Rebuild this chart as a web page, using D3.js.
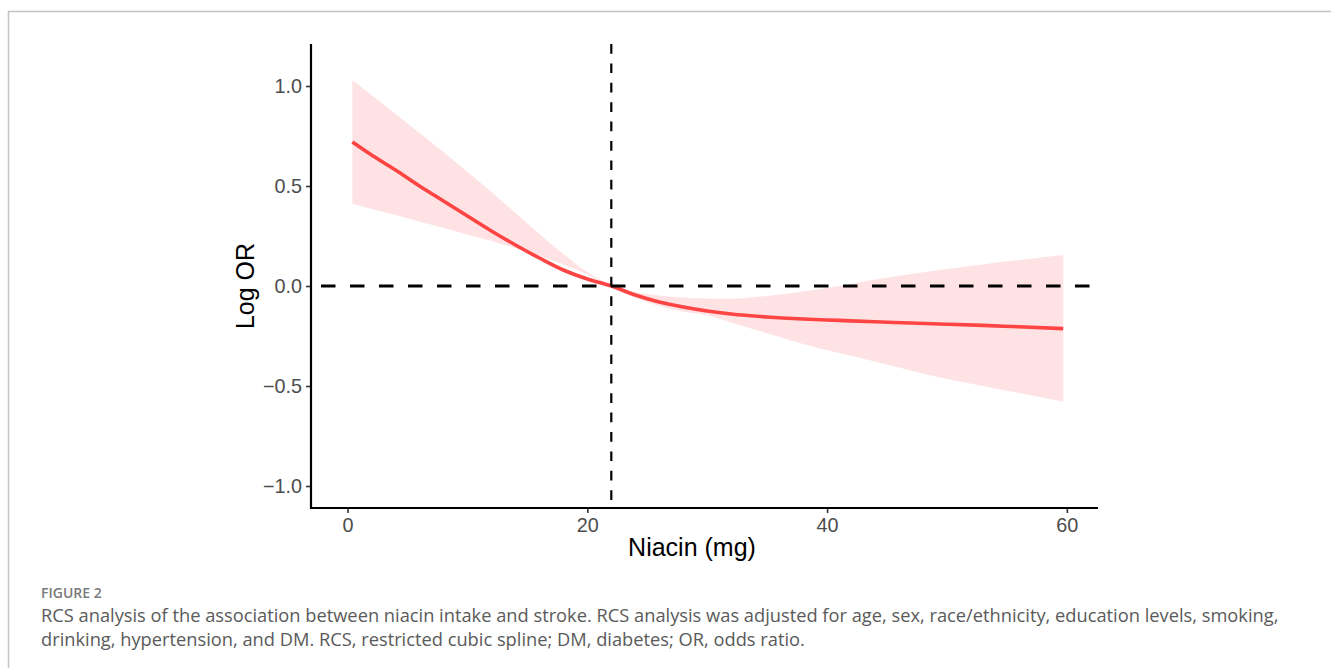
<!DOCTYPE html>
<html>
<head>
<meta charset="utf-8">
<script src="https://cdn.jsdelivr.net/npm/d3@7"></script>
<style>
  body { margin: 0; background: #fff; }
  svg { display: block; }
</style>
</head>
<body>
<div id="chart"></div>
<script>
// niacin intake (mg) and RCS estimate with 95% CI
const niacin = [0.4, 2, 4, 6, 8, 10, 12, 14, 16, 18, 20, 22, 24, 26, 28, 30, 32, 35, 38, 41, 44, 47, 50, 53, 56, 59.7];
const logOR  = [0.72, 0.655, 0.58, 0.50, 0.425, 0.35, 0.275, 0.205, 0.14, 0.08, 0.035, 0.0, -0.045, -0.08, -0.105, -0.125, -0.14, -0.155, -0.165, -0.172, -0.179, -0.185, -0.191, -0.197, -0.204, -0.213];
const upper  = [1.03, 0.955, 0.86, 0.765, 0.67, 0.57, 0.47, 0.365, 0.26, 0.16, 0.07, 0.005, -0.03, -0.048, -0.058, -0.063, -0.064, -0.05, -0.028, 0.0, 0.032, 0.06, 0.085, 0.108, 0.13, 0.155];
const lower  = [0.413, 0.385, 0.355, 0.322, 0.29, 0.258, 0.225, 0.19, 0.15, 0.108, 0.058, -0.005, -0.06, -0.1, -0.127, -0.146, -0.182, -0.236, -0.29, -0.335, -0.378, -0.422, -0.465, -0.50, -0.535, -0.578];

const xTicks = [0, 20, 40, 60];
const yTicks = [-1.0, -0.5, 0.0, 0.5, 1.0];
const refX = 22;   // vertical reference line
const refY = 0;    // horizontal reference line

const captionHead = "FIGURE 2";
const captionLines = [
  "RCS analysis of the association between niacin intake and stroke. RCS analysis was adjusted for age, sex, race/ethnicity, education levels, smoking,",
  "drinking, hypertension, and DM. RCS, restricted cubic spline; DM, diabetes; OR, odds ratio."
];

const width = 1331, height = 668;
const panel = {left: 311, right: 1098, top: 44, bottom: 508};

const svg = d3.select("#chart").append("svg")
  .attr("width", width)
  .attr("height", height);

// frame of the figure box
svg.append("path")
  .attr("d", `M8.5,${height} V11.5 H${width}`)
  .attr("fill", "none")
  .attr("stroke", "#c4c4c4")
  .attr("stroke-width", 1.5);

const x = d3.scaleLinear().domain([-3.05, 62.6]).range([panel.left, panel.right]);
const y = d3.scaleLinear().domain([-1.11, 1.21]).range([panel.bottom, panel.top]);

const data = niacin.map((d, i) => ({x: d, y: logOR[i], lo: lower[i], hi: upper[i]}));

// confidence band
svg.append("path")
  .datum(data)
  .attr("d", d3.area()
    .curve(d3.curveMonotoneX)
    .x(d => x(d.x))
    .y0(d => y(d.lo))
    .y1(d => y(d.hi)))
  .attr("fill", "#ffe2e3");

// fitted curve
svg.append("path")
  .datum(data)
  .attr("d", d3.line()
    .curve(d3.curveMonotoneX)
    .x(d => x(d.x))
    .y(d => y(d.y)))
  .attr("fill", "none")
  .attr("stroke", "#ff4444")
  .attr("stroke-width", 3.6);

// reference lines
svg.append("line")
  .attr("x1", panel.left).attr("x2", panel.right - 6)
  .attr("y1", y(refY)).attr("y2", y(refY))
  .attr("stroke", "#000")
  .attr("stroke-width", 3)
  .attr("stroke-dasharray", "14.5,14.5")
  .attr("stroke-dashoffset", -10);

svg.append("line")
  .attr("x1", x(refX)).attr("x2", x(refX))
  .attr("y1", panel.top).attr("y2", panel.bottom)
  .attr("stroke", "#000")
  .attr("stroke-width", 2.2)
  .attr("stroke-dasharray", "9.7,9.7");

// axes
const fmt = d3.format(".1f");
const yAxis = svg.append("g")
  .attr("transform", `translate(${panel.left},0)`)
  .call(d3.axisLeft(y).tickValues(yTicks).tickFormat(fmt).tickSize(5).tickPadding(4));

const xAxis = svg.append("g")
  .attr("transform", `translate(0,${panel.bottom})`)
  .call(d3.axisBottom(x).tickValues(xTicks).tickFormat(d3.format("d")).tickSize(5).tickPadding(5));

[xAxis, yAxis].forEach(g => {
  g.select(".domain").remove();
  g.selectAll(".tick line").attr("stroke", "#333").attr("stroke-width", 1.6);
  g.selectAll(".tick text")
    .attr("fill", "#4d4d4d")
    .style("font-family", "'Liberation Sans', Arial, sans-serif")
    .style("font-size", "19.8px");
});

// axis lines drawn separately so they meet at the corner
svg.append("path")
  .attr("d", `M${panel.left},${panel.top} V${panel.bottom} H${panel.right}`)
  .attr("fill", "none")
  .attr("stroke", "#000")
  .attr("stroke-width", 2.2);

// axis titles
svg.append("text")
  .attr("x", 692)
  .attr("y", 556)
  .attr("text-anchor", "middle")
  .style("font-family", "'Liberation Sans', Arial, sans-serif")
  .style("font-size", "25px")
  .attr("fill", "#000")
  .text("Niacin (mg)");

svg.append("text")
  .attr("transform", `translate(254,${y(0)}) rotate(-90)`)
  .attr("text-anchor", "middle")
  .style("font-family", "'Liberation Sans', Arial, sans-serif")
  .style("font-size", "25px")
  .attr("fill", "#000")
  .text("Log OR");

// caption
svg.append("text")
  .attr("x", 41)
  .attr("y", 598)
  .style("font-family", "'Open Sans', 'Noto Sans', sans-serif")
  .style("font-size", "14px")
  .style("font-weight", 600)
  .attr("fill", "#7a7a7a")
  .text(captionHead);

const capLines = svg.selectAll(".cap")
  .data(captionLines)
  .enter()
  .append("text")
  .attr("class", "cap")
  .attr("x", 41)
  .attr("y", (d, i) => 622 + i * 24)
  .style("font-family", "'Open Sans', 'Noto Sans', sans-serif")
  .style("font-size", "16px")
  .attr("fill", "#5a5a5a")
  .text(d => d);

// scale caption font so the first line fills the same width as the reference
const firstLen = capLines.node().getComputedTextLength();
const fs = 16 * 1238 / firstLen;
capLines.style("font-size", fs.toFixed(2) + "px");
</script>
</body>
</html>
